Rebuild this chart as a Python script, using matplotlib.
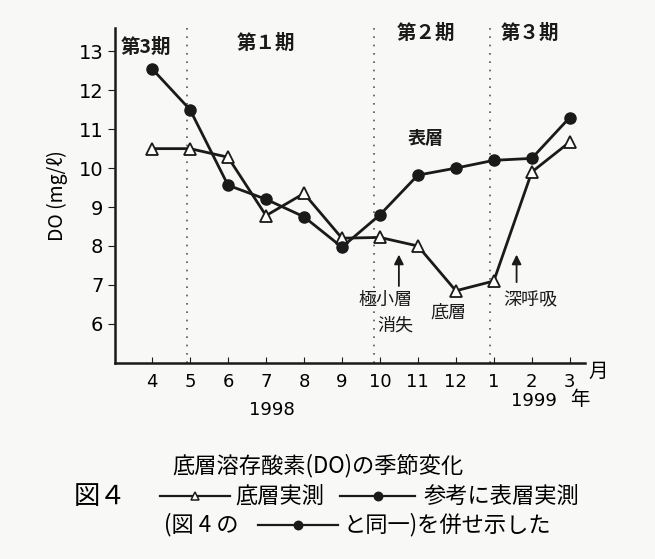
import matplotlib
matplotlib.use("Agg")
import matplotlib.pyplot as plt
from matplotlib.lines import Line2D

plt.rcParams['font.family'] = ['Noto Sans CJK JP', 'DejaVu Sans']

# 1998年4月 ～ 1999年3月
months = ['4', '5', '6', '7', '8', '9', '10', '11', '12', '1', '2', '3']
bottom_do = [10.5, 10.5, 10.28, 8.78, 9.35, 8.2, 8.22, 8.0, 6.85, 7.1, 9.9, 10.67]   # 底層実測
surface_do = [12.55, 11.5, 9.56, 9.2, 8.75, 7.97, 8.8, 9.82, 10.0, 10.2, 10.25, 11.3]  # 表層実測
period_bounds = [0.92, 5.85, 8.9]
period_labels = ['第3期', '第１期', '第２期', '第３期']
period_x = [-0.15, 3.0, 7.2, 9.95]
period_y = [13.1, 13.2, 13.45, 13.45]

ink = '#1a1a1a'
bg = '#f8f8f6'
fig = plt.figure(figsize=(6.55, 5.59), dpi=100, facecolor=bg)
ax = fig.add_axes([0.176, 0.351, 0.717, 0.599], facecolor=bg)

x = list(range(len(months)))
ax.plot(x, bottom_do, color=ink, lw=2.0, marker='^', ms=8,
        mfc='white', mec=ink, mew=1.3, zorder=3)
ax.plot(x, surface_do, color=ink, lw=2.0, marker='o', ms=8,
        mfc=ink, mec=ink, zorder=4)

for b in period_bounds:
    ax.axvline(b, color='#555555', lw=1.2, ls=(0, (1, 4)), zorder=1, clip_on=False)

for lab, px, py in zip(period_labels, period_x, period_y):
    ax.text(px, py, lab, ha='center', va='center', fontsize=14, weight='bold', color=ink)

ax.text(7.2, 10.75, '表層', ha='center', va='center', fontsize=13, weight='bold', color=ink)

# 矢印と注記
ax.annotate('', xy=(6.5, 7.85), xytext=(6.5, 6.9),
            arrowprops=dict(arrowstyle='-|>', color=ink, lw=1.3, mutation_scale=14))
ax.annotate('', xy=(9.6, 7.85), xytext=(9.6, 7.0),
            arrowprops=dict(arrowstyle='-|>', color=ink, lw=1.3, mutation_scale=14))
ax.text(6.15, 6.62, '極小層', ha='center', va='center', fontsize=13, color=ink)
ax.text(6.4, 5.95, '消失', ha='center', va='center', fontsize=13, color=ink)
ax.text(7.8, 6.3, '底層', ha='center', va='center', fontsize=13, color=ink)
ax.text(9.95, 6.6, '深呼吸', ha='center', va='center', fontsize=13, color=ink)

ax.set_xlim(-0.97, 11.4)
ax.set_ylim(5.0, 13.6)
ax.set_xticks(x)
ax.set_xticklabels(months, fontsize=13, family='DejaVu Sans')
ax.set_yticks(range(6, 14))
ax.set_yticklabels([str(v) for v in range(6, 14)], fontsize=14, family='DejaVu Sans')
ax.tick_params(axis='x', direction='in', length=4, pad=7, color=ink)
ax.tick_params(axis='y', direction='out', length=5, color=ink)
for s in ['top', 'right']:
    ax.spines[s].set_visible(False)
for s in ['left', 'bottom']:
    ax.spines[s].set_linewidth(1.8)
    ax.spines[s].set_color(ink)

ax.set_ylabel('DO (mg/ℓ)', fontsize=14, labelpad=8)

fig.text(0.913, 0.336, '月', fontsize=14, ha='center', va='center')
fig.text(0.415, 0.266, '1998', fontsize=13, ha='center', va='center', family='DejaVu Sans')
fig.text(0.815, 0.282, '1999', fontsize=13, ha='center', va='center', family='DejaVu Sans')
fig.text(0.885, 0.285, '年', fontsize=14, ha='center', va='center')

# キャプション
fig.text(0.485, 0.168, '底層溶存酸素(DO)の季節変化', fontsize=16, ha='center', va='center')
fig.text(0.112, 0.112, '図４', fontsize=19, ha='left', va='center')
fig.text(0.36, 0.112, '底層実測', fontsize=16, ha='left', va='center')
fig.text(0.647, 0.112, '参考に表層実測', fontsize=16, ha='left', va='center')
fig.text(0.25, 0.061, '(図 4 の', fontsize=16, ha='left', va='center')
fig.text(0.525, 0.061, 'と同一)を併せ示した', fontsize=16, ha='left', va='center')

legend_lines = [
    ([0.244, 0.351], 0.112, '^', 'white'),
    ([0.519, 0.634], 0.112, 'o', ink),
    ([0.394, 0.516], 0.061, 'o', ink),
]
for (x0, x1), yy, m, fc in legend_lines:
    fig.add_artist(Line2D([x0, x1], [yy, yy], color=ink, lw=1.6))
    fig.add_artist(Line2D([(x0 + x1) / 2], [yy], marker=m, ms=6, mfc=fc,
                          mec=ink, mew=1.1, color=ink))

fig.savefig('out.png', dpi=100, facecolor=bg)
